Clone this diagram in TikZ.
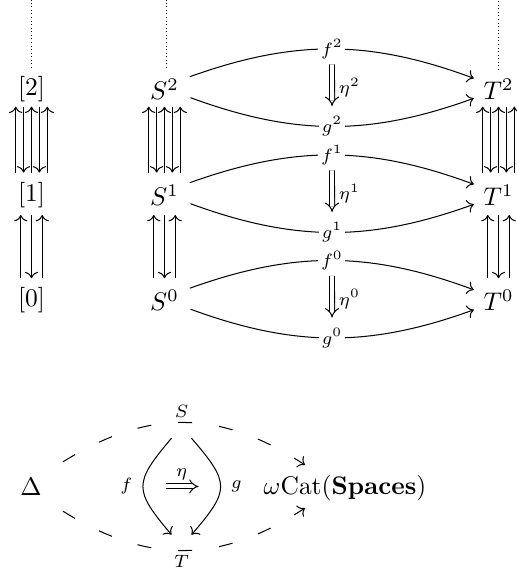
\documentclass[tikz,border=0pt]{standalone}
\usetikzlibrary{cd,arrows.meta}
\begin{document}
\begin{tikzpicture}[x=0.3922pt,y=-0.3922pt,
  obj/.style={inner sep=2pt},
  lab/.style={font=\scriptsize, fill=white, inner sep=1pt},
  sidelab/.style={font=\scriptsize, inner sep=1pt},
  ar/.style={-{cm to}, line width=0.4pt},
  dbl/.style={double=white, double equal sign distance, -{cm implies}},
  dots/.style={densely dotted},
  dasharr/.style={-{cm to}, dash pattern=on 5.5pt off 10.6pt}]
\useasboundingbox (0,0) rectangle (516,575);

% ---------- top diagram ----------
\node[obj] (b2) at (31.5,89) {$[2]$};
\node[obj] (b1) at (31.5,195) {$[1]$};
\node[obj] (b0) at (31.5,300.5) {$[0]$};
\node[obj] (S2) at (164.5,89) {$S^2$};
\node[obj] (S1) at (164.5,195) {$S^1$};
\node[obj] (S0) at (164.5,300.5) {$S^0$};
\node[obj] (T2) at (498.5,89) {$T^2$};
\node[obj] (T1) at (498.5,195) {$T^1$};
\node[obj] (T0) at (498.5,300.5) {$T^0$};

\coordinate (tb) at (31.5,0);
\coordinate (tS) at (166.5,0);
\coordinate (tT) at (498.5,0);
\draw[dots] ([shift={(0,-21)}]b2.center) -- (tb);
\draw[dots] ([shift={(2,-21)}]S2.center) -- (tS);
\draw[dots] ([shift={(0,-19)}]T2.center) -- (tT);

\foreach \n in {b,S,T}{
  % between row 2 and row 1: up, down, up, down, up
  \draw[ar] ([shift={(-15.8,-22.5)}]\n1.center) -- ([shift={(-15.8,17.7)}]\n2.center);
  \draw[ar] ([shift={(-7.9,17.7)}]\n2.center) -- ([shift={(-7.9,-22.5)}]\n1.center);
  \draw[ar] ([shift={(0,-22.5)}]\n1.center) -- ([shift={(0,17.7)}]\n2.center);
  \draw[ar] ([shift={(7.9,17.7)}]\n2.center) -- ([shift={(7.9,-22.5)}]\n1.center);
  \draw[ar] ([shift={(15.8,-22.5)}]\n1.center) -- ([shift={(15.8,17.7)}]\n2.center);
  % between row 1 and row 0: up, down, up
  \draw[ar] ([shift={(-10.7,-22.3)}]\n0.center) -- ([shift={(-10.7,20)}]\n1.center);
  \draw[ar] ([shift={(0,20)}]\n1.center) -- ([shift={(0,-22.3)}]\n0.center);
  \draw[ar] ([shift={(10.7,-22.3)}]\n0.center) -- ([shift={(10.7,20)}]\n1.center);
}

\foreach \k in {2,1,0}{
  \draw[ar] ([shift={(25.3,-12.3)}]S\k.center) to[bend left=20]
     node[lab] (f\k) {$f^\k$} ([shift={(-24.7,-10.7)}]T\k.center);
  \draw[ar] ([shift={(26,8.7)}]S\k.center) to[bend right=20]
     node[lab] (g\k) {$g^\k$} ([shift={(-24.7,9.3)}]T\k.center);
  \draw[dbl, shorten <=1pt, shorten >=3pt] (f\k) --
     node[sidelab, right=1.5pt] (e\k) {$\eta^\k$} (g\k);
}

% ---------- bottom diagram ----------
\node[obj] (D) at (31,486.3) {$\Delta$};
\node[obj] (W) at (345,488.6) {$\omega\mathrm{Cat}(\mathbf{Spaces})$};
\node[sidelab] (S) at (181.5,411.7) {$S$};
\node[sidelab] (T) at (181.5,561.7) {$T$};

\draw[dasharr] ([shift={(32,-24.5)}]D.center) .. controls +(85,-53) and +(-85,-56) .. ([shift={(-40,-23.6)}]W.center);
\draw[dasharr] ([shift={(32,24.9)}]D.center) .. controls +(85,53) and +(-85,56) .. ([shift={(-40,19.4)}]W.center);

\draw[ar] ([shift={(-10,26.5)}]S.center) .. controls +(-38,45) and +(-38,-45) ..
   node[sidelab, pos=0.5, left=3pt] (fl) {$f$} ([shift={(-10,-27)}]T.center);
\draw[ar] ([shift={(10,26.5)}]S.center) .. controls +(38.7,45) and +(38.7,-45) ..
   node[sidelab, pos=0.5, right=3pt] (gl) {$g$} ([shift={(10,-27)}]T.center);
\draw[dbl, shorten <=12.2pt, shorten >=11.6pt] (fl) -- node[sidelab, above=1.5pt] (el) {$\eta$} (gl);
\end{tikzpicture}
\end{document}
